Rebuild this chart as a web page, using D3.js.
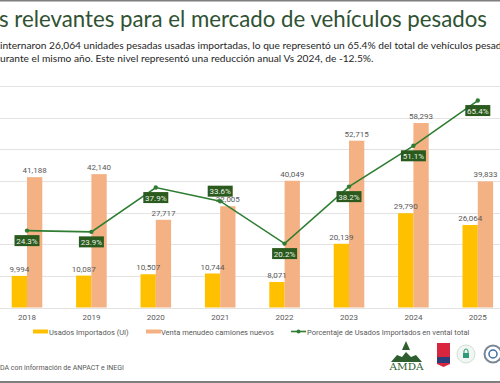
<!DOCTYPE html>
<html>
<head>
<meta charset="utf-8">
<script src="https://cdn.jsdelivr.net/npm/d3@7"></script>
<style>
  body { margin: 0; background: #fff; }
  svg { display: block; }
</style>
</head>
<body>
<svg id="chart" width="500" height="383"></svg>
<script>
// datos
const years = ['2018', '2019', '2020', '2021', '2022', '2023', '2024', '2025']
const usados = [9994, 10087, 10507, 10744, 8071, 20139, 29790, 26064]
const nuevos = [41188, 42140, 27717, 32005, 40049, 52715, 58293, 39833]
const porcentaje = [24.3, 23.9, 37.9, 33.6, 20.2, 38.2, 51.1, 65.4]
// posicion de la etiqueta del porcentaje: 1 abajo, -1 arriba
const pctLabelSide = [1, 1, 1, -1, 1, 1, 1, 1]
const yTicks = [0, 10000, 20000, 30000, 40000, 50000, 60000, 70000]

const fmt = d3.format(',')
const svg = d3.select('#chart')

const colUsados = '#FFC000'
const colNuevos = '#F4B183'
const colLinea = '#2E7D32'
const colBox = '#2B5A1E'

// marco gris arriba y abajo
svg.append('rect').attr('x', 0).attr('y', 0).attr('width', 500).attr('height', 1.5).attr('fill', '#7f7f7f')
svg.append('rect').attr('x', 0).attr('y', 381).attr('width', 500).attr('height', 2).attr('fill', '#7f7f7f')

// titulo y texto
const title = svg.append('text')
  .attr('x', -1).attr('y', 27)
  .attr('font-family', 'Lato, sans-serif')
  .attr('font-size', 23)
  .attr('fill', '#2F5233')
  .text('s relevantes para el mercado de vehículos pesados')
// ajustar el titulo para que termine cerca de x=487
const tw = title.node().getComputedTextLength()
title.attr('font-size', 23 * 488 / tw)

const sub = svg.append('g')
  .attr('font-family', 'Lato, sans-serif')
  .attr('font-size', 10.2)
  .attr('fill', '#262626')
sub.append('text').attr('x', 0).attr('y', 49)
  .text('internaron 26,064 unidades pesadas usadas importadas, lo que representó un 65.4% del total de vehículos pesados')
sub.append('text').attr('x', 0).attr('y', 62)
  .text('urante el mismo año. Este nivel representó una reducción anual Vs 2024, de -12.5%.')

// escalas
const x = d3.scaleBand()
  .domain(years)
  .range([-5.2, 510])
  .paddingInner(0.525)
  .paddingOuter(0.2625)
const xs = d3.scaleBand().domain(['usados', 'nuevos']).range([0, x.bandwidth()])
const y = d3.scaleLinear().domain([0, 70000]).range([307.5, 86])
const yp = d3.scaleLinear().domain([0, 70]).range([307.5, 86])

// lineas de cuadricula
svg.append('g')
  .selectAll('line')
  .data(yTicks)
  .join('line')
  .attr('x1', 0).attr('x2', 500)
  .attr('y1', d => Math.round(y(d)) + 0.5)
  .attr('y2', d => Math.round(y(d)) + 0.5)
  .attr('stroke', '#E3E3E3')
  .attr('stroke-width', 1)

// eje x
const xAxis = svg.append('g')
  .attr('transform', `translate(0,${y(0)})`)
  .call(d3.axisBottom(x).tickSize(0).tickPadding(7))
xAxis.select('.domain').remove()
xAxis.selectAll('text')
  .attr('font-family', 'Roboto, sans-serif')
  .attr('font-size', 8)
  .attr('fill', '#595959')

const rows = years.map((yr, i) => ({ yr, usados: usados[i], nuevos: nuevos[i], pct: porcentaje[i], side: pctLabelSide[i] }))

// barras
const groups = svg.append('g')
  .selectAll('g')
  .data(rows)
  .join('g')
  .attr('transform', d => `translate(${x(d.yr)},0)`)

groups.append('rect')
  .attr('x', xs('usados'))
  .attr('y', d => y(d.usados))
  .attr('width', xs.bandwidth())
  .attr('height', d => y(0) - y(d.usados))
  .attr('fill', colUsados)

groups.append('rect')
  .attr('x', xs('nuevos'))
  .attr('y', d => y(d.nuevos))
  .attr('width', xs.bandwidth())
  .attr('height', d => y(0) - y(d.nuevos))
  .attr('fill', colNuevos)

// etiquetas de valores
const valStyle = sel => sel
  .attr('font-family', 'Roboto, sans-serif')
  .attr('font-size', 8)
  .attr('fill', '#595959')
  .attr('text-anchor', 'middle')

groups.append('text')
  .attr('x', xs('usados') + xs.bandwidth() / 2)
  .attr('y', d => y(d.usados) - 4)
  .text(d => fmt(d.usados))
  .call(valStyle)

groups.append('text')
  .attr('x', xs('nuevos') + xs.bandwidth() / 2)
  .attr('y', d => y(d.nuevos) - 4)
  .text(d => fmt(d.nuevos))
  .call(valStyle)

// linea de porcentaje
const cx = d => x(d.yr) + x.bandwidth() / 2
const line = d3.line().x(cx).y(d => yp(d.pct))

svg.append('path')
  .datum(rows)
  .attr('d', line)
  .attr('fill', 'none')
  .attr('stroke', colLinea)
  .attr('stroke-width', 1.6)

svg.append('g')
  .selectAll('circle')
  .data(rows)
  .join('circle')
  .attr('cx', cx)
  .attr('cy', d => yp(d.pct))
  .attr('r', 2.2)
  .attr('fill', colLinea)

// cajas de porcentaje
const boxes = svg.append('g')
  .selectAll('g')
  .data(rows)
  .join('g')
  .attr('transform', d => `translate(${cx(d)},${yp(d.pct) + d.side * 10})`)

boxes.append('rect')
  .attr('x', -12.5).attr('y', -5.5)
  .attr('width', 25).attr('height', 11)
  .attr('fill', colBox)

boxes.append('text')
  .attr('y', 3)
  .attr('text-anchor', 'middle')
  .attr('font-family', 'Roboto, sans-serif')
  .attr('font-size', 8)
  .attr('fill', '#E8F0E4')
  .text(d => d.pct.toFixed(1) + '%')

// leyenda
const leg = svg.append('g')
  .attr('font-family', 'Roboto, sans-serif')
  .attr('font-size', 7.5)
  .attr('fill', '#595959')
leg.append('rect').attr('x', 33).attr('y', 329.5).attr('width', 15).attr('height', 4).attr('fill', colUsados)
leg.append('text').attr('x', 49).attr('y', 334.5).text('Usados Importados (UI)')
leg.append('rect').attr('x', 146).attr('y', 329.5).attr('width', 15).attr('height', 4).attr('fill', colNuevos)
leg.append('text').attr('x', 161).attr('y', 334.5).text('Venta menudeo camiones nuevos')
leg.append('line').attr('x1', 291).attr('x2', 306).attr('y1', 331.5).attr('y2', 331.5)
  .attr('stroke', colLinea).attr('stroke-width', 1.6)
leg.append('circle').attr('cx', 298.5).attr('cy', 331.5).attr('r', 2).attr('fill', colLinea)
leg.append('text').attr('x', 307).attr('y', 334.5).text('Porcentaje de Usados Importados en vental total')

// fuente
svg.append('text')
  .attr('x', 0).attr('y', 370)
  .attr('font-family', 'Roboto, sans-serif')
  .attr('font-size', 7)
  .attr('fill', '#595959')
  .text('DA con información de ANPACT e INEGI')

// logos (simplificados)
const logos = svg.append('g')
// AMDA
logos.append('path').attr('d', 'M402,350 L406,341 L410,350 Z').attr('fill', '#2E5E2E')
logos.append('path').attr('d', 'M391,362 L397,355 L402,357 L406,352 L411,357 L416,355 L422,362 Z').attr('fill', '#2E5E2E')
logos.append('text').attr('x', 406.5).attr('y', 369.5).attr('text-anchor', 'middle')
  .attr('font-family', 'DejaVu Serif, serif').attr('font-size', 9).attr('fill', '#2E5E2E')
  .attr('textLength', 34).attr('lengthAdjust', 'spacingAndGlyphs')
  .text('AMDA')
// Great Place to Work
logos.append('path').attr('d', 'M437,343 L450,343 L450,364 L443.5,367 L437,364 Z').attr('fill', '#D7263D')
logos.append('rect').attr('x', 437).attr('y', 357).attr('width', 13).attr('height', 6).attr('fill', '#2C3E7A')
// circulo verde
logos.append('circle').attr('cx', 466).attr('cy', 354).attr('r', 9).attr('fill', '#F2F6F2').attr('stroke', '#CFE0D4')
logos.append('rect').attr('x', 463).attr('y', 353).attr('width', 6).attr('height', 5).attr('fill', '#2E9A7A')
logos.append('path').attr('d', 'M464,353 v-2 a2,2 0 0 1 4,0 v2').attr('fill', 'none').attr('stroke', '#2E9A7A').attr('stroke-width', 1)
// circulo gris
logos.append('circle').attr('cx', 493).attr('cy', 354).attr('r', 8.5).attr('fill', '#fff').attr('stroke', '#7A8796').attr('stroke-width', 2)
logos.append('circle').attr('cx', 493).attr('cy', 354).attr('r', 4).attr('fill', 'none').attr('stroke', '#3E6EA8').attr('stroke-width', 1.5)
</script>
</body>
</html>
